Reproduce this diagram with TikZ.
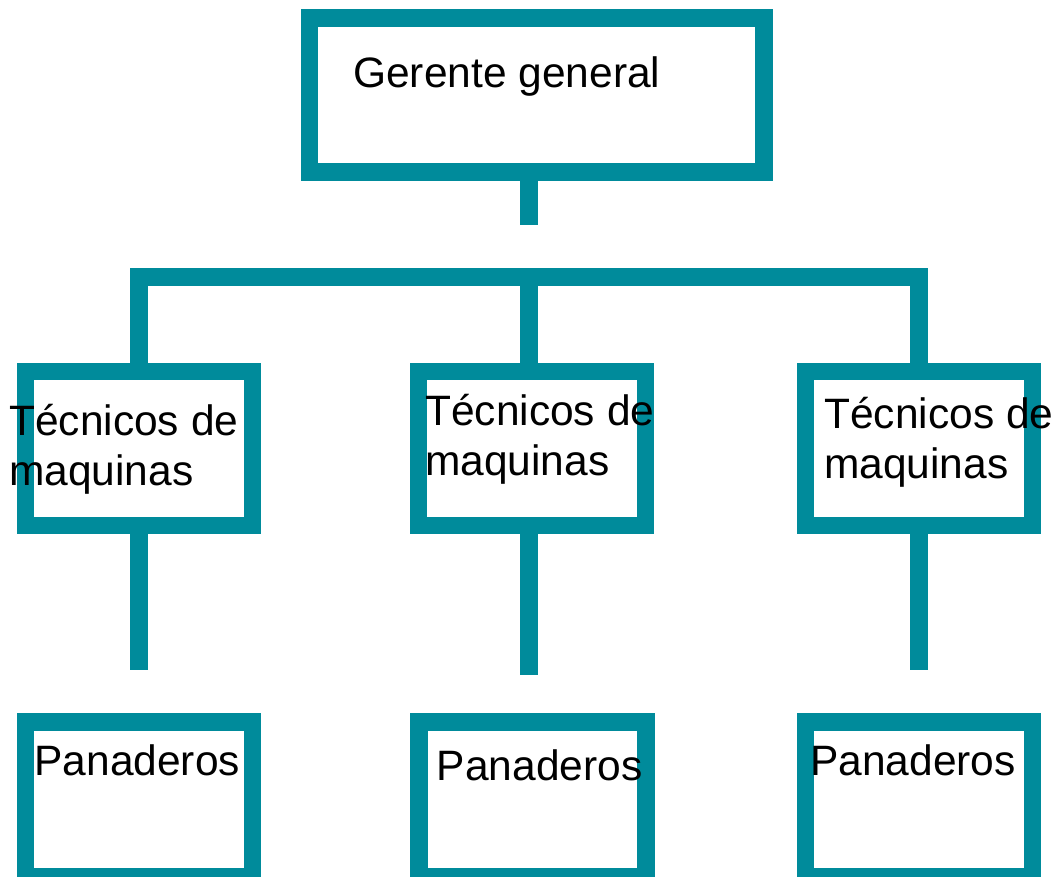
\documentclass[tikz,border=0pt]{standalone}
\usepackage{fontspec}
\setmainfont{Liberation Sans}
\usepackage{tikz}
\definecolor{orgteal}{RGB}{0,139,155}

\begin{document}
\begin{tikzpicture}[x=1pt, y=-1pt,
    puesto/.style={draw=orgteal, line width=17.5pt, rectangle, inner sep=0pt, outer sep=0pt, minimum width=227pt, minimum height=154pt},
    rama/.style={draw=orgteal, line width=17.5pt, line cap=butt, line join=miter},
    rotulo/.style={anchor=base west, inner sep=0pt, align=left, font=\fontsize{42.5}{50}\selectfont}]
                \useasboundingbox (0,0) rectangle (1059,877);
                % cajas
                \node[puesto, minimum width=454.5pt] (gerente) at (536.75,95) {};
                \node[puesto] (tec1) at (139,448.5) {};
                \node[puesto] (tec2) at (532,448.5) {};
                \node[puesto] (tec3) at (919,448.5) {};
                \node[puesto, minimum height=155pt] (pan1) at (139,799.5) {};
                \node[puesto, minimum height=155pt] (pan2) at (532.5,799.5) {};
                \node[puesto, minimum height=155pt] (pan3) at (919,799.5) {};
                % lineas
                \coordinate (gerente fin) at (529,225);
                \coordinate (barra) at (529,277);
                \coordinate (tec1 fin) at (139,669.5);
                \coordinate (tec2 fin) at (529,675);
                \coordinate (tec3 fin) at (919,669.5);
                \draw[rama] (gerente fin |- gerente.south) -- (gerente fin);
                \draw[rama] (tec1.north) -- (tec1.north |- barra) -- (tec3.north |- barra) -- (tec3.north);
                \draw[rama] (barra) -- (barra |- tec2.north);
                \draw[rama] (tec1 fin |- tec1.south) -- (tec1 fin);
                \draw[rama] (tec2 fin |- tec2.south) -- (tec2 fin);
                \draw[rama] (tec3 fin |- tec3.south) -- (tec3 fin);
                % textos (base = ultima linea)
                \node[rotulo] (gerente txt) at (353,87.3) {Gerente general};
                \node[rotulo] (tec1 txt) at (9,485.7) {Técnicos de\\maquinas};
                \node[rotulo] (tec2 txt) at (425,475) {Técnicos de\\maquinas};
                \node[rotulo] (tec3 txt) at (824,478.3) {Técnicos de\\maquinas};
                \node[rotulo] (pan1 txt) at (34.3,775.7) {Panaderos};
                \node[rotulo] (pan2 txt) at (436.6,780) {Panaderos};
                \node[rotulo] (pan3 txt) at (810,775) {Panaderos};
            \end{tikzpicture}
\end{document}
